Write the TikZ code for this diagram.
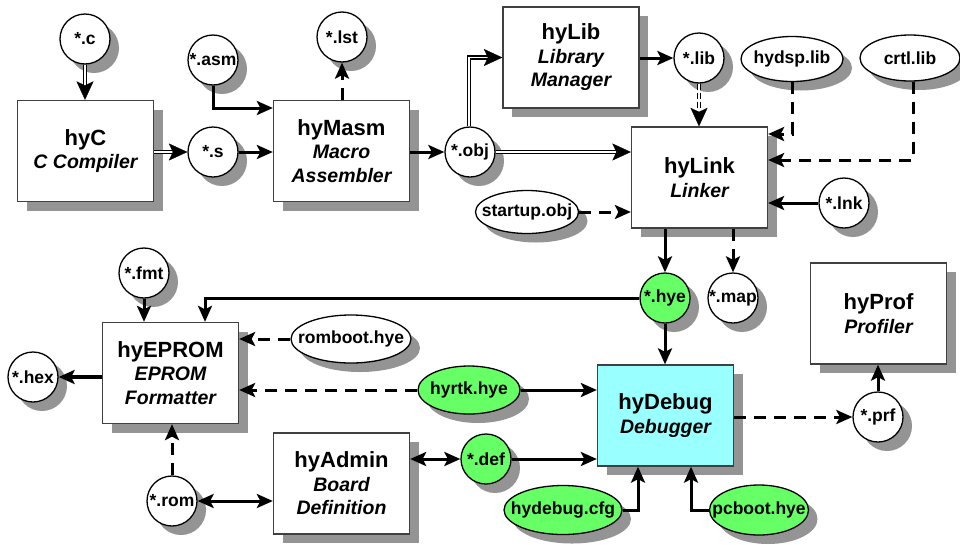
\documentclass[tikz,border=0pt]{standalone}
\usepackage{fontspec}
\setmainfont{Liberation Sans}
\usetikzlibrary{arrows.meta,shadows,shapes.geometric}
\definecolor{fgreen}{HTML}{66FF66}
\definecolor{fcyan}{HTML}{99FFFF}
\newcommand\subt[1]{{\itshape\fontsize{19.5}{23.5}\selectfont #1}}
\newcommand\zw[1]{\makebox[0pt][c]{#1}}
\begin{document}
\begin{tikzpicture}[x=1pt,y=-1pt,
  shd/.style={drop shadow={shadow xshift=9pt,shadow yshift=-9pt,fill=black!42,opacity=1}},
  proc/.style={shd, draw=black!75, line width=1.3pt, fill=white, minimum width=136pt, minimum height=101pt, align=center, inner sep=0pt, font=\bfseries\fontsize{22}{23.5}\selectfont},
  file/.style={shd, circle, draw=black, line width=1.3pt, fill=white, minimum size=50pt, inner sep=0pt, font=\bfseries\fontsize{17.5}{19}\selectfont},
  efile/.style={shd, ellipse, draw=black, line width=1.3pt, fill=white, inner sep=0pt, font=\bfseries\fontsize{17.5}{19}\selectfont},
  grn/.style={fill=fgreen},
  tip/.tip={Stealth[length=16pt,width=14pt,inset=3.5pt]},
  conn/.style={line width=3pt, -tip},
  both/.style={line width=3pt, tip-tip},
  heavy/.style={line width=4.6pt, -tip},
  dsh/.style={line width=3pt, -tip, dash pattern=on 12pt off 8pt},
  dbl/.style={double, line width=1.4pt, double distance=1.8pt, shorten >=10pt},
  ddbl/.style={dbl, dash pattern=on 6pt off 3pt},
  tiponly/.style={draw=white, line width=0.3pt, -{Stealth[length=18.5pt,width=17pt,inset=4pt,color=black,fill=black]}},
]
\useasboundingbox[fill=white] (0,0) rectangle (960,544);

% process boxes
\node[proc] (hyC) at (85.5,151) {hyC\\\subt{C Compiler}};
\node[proc] (hyMasm) at (341.5,151) {hyMasm\\\subt{Macro}\\\subt{Assembler}};
\node[proc] (hyLib) at (571,57.5) {hyLib\\\subt{Library}\\\subt{Manager}};
\node[proc] (hyLink) at (699.5,177.5) {hyLink\\\subt{Linker}};
\node[proc] (hyEPROM) at (170.5,373) {hyEPROM\\\subt{EPROM}\\\subt{Formatter}};
\node[proc] (hyAdmin) at (341.5,483.5) {hyAdmin\\\subt{Board}\\\subt{Definition}};
\node[proc, fill=fcyan] (hyDebug) at (665.5,415.5) {hyDebug\\\subt{Debugger}};
\node[proc] (hyProf) at (878.5,313.5) {hyProf\\\subt{Profiler}};

% files
\node[file] (c) at (85,39) {\zw{*.c}};
\node[file] (asm) at (213,60) {\zw{*.asm}};
\node[file] (s) at (213,152) {\zw{*.s}};
\node[file] (lst) at (342,37) {\zw{*.lst}};
\node[file] (obj) at (470,152) {\zw{*.obj}};
\node[file] (lib) at (699,58) {\zw{*.lib}};
\node[file] (lnk) at (844,203) {\zw{*.lnk}};
\node[file, grn] (hye) at (665,298) {\zw{*.hye}};
\node[file] (map) at (733,298) {\zw{*.map}};
\node[file] (prf) at (878,417) {\zw{*.prf}};
\node[file] (fmt) at (144,273) {\zw{*.fmt}};
\node[file] (hex) at (33,377) {\zw{*.hex}};
\node[file] (rom) at (172,501) {\zw{*.rom}};
\node[file, grn] (def) at (486,459) {\zw{*.def}};

\node[efile, minimum width=102pt, minimum height=45pt] (hydsp) at (792,59) {\zw{hydsp.lib}};
\node[efile, minimum width=100pt, minimum height=46pt] (crtl) at (910,58) {\zw{crtl.lib}};
\node[efile, minimum width=103pt, minimum height=43pt] (startup) at (527,212) {\zw{startup.obj}};
\node[efile, minimum width=120pt, minimum height=48pt] (romboot) at (351,339) {\zw{romboot.hye}};
\node[efile, grn, minimum width=102pt, minimum height=48pt] (hyrtk) at (469,390) {\zw{hyrtk.hye}};
\node[efile, grn, minimum width=118pt, minimum height=49pt] (hydebug) at (563,510) {\zw{hydebug.cfg}};
\node[efile, grn, minimum width=99pt, minimum height=50pt] (pcboot) at (759,510) {\zw{pcboot.hye}};

% double connectors (line, then solid tip)
\draw[dbl] (c.south) -- (c |- hyC.north);
\draw[tiponly] (c.south) -- (c |- hyC.north);
\draw[dbl] (hyC.east |- s) -- (s.west);
\draw[tiponly] (hyC.east |- s) -- (s.west);
\draw[dbl] ([xshift=-1pt]obj.north) |- (hyLib.west);
\draw[tiponly] ([xshift=-1pt]obj.north) |- (hyLib.west);
\draw[dbl] (obj.east) -- (obj -| hyLink.west);
\draw[tiponly] (obj.east) -- (obj -| hyLink.west);
\draw[ddbl] (lib.south) -- (lib |- hyLink.north);
\draw[tiponly] (lib.south) -- (lib |- hyLink.north);

% single connectors
\draw[conn] (s.east) -- (s -| hyMasm.west);
\draw[conn] (asm.south) |- ([yshift=43pt]hyMasm.west);
\draw[dsh] (lst |- hyMasm.north) -- (lst.south);
\draw[conn] (hyMasm.east |- obj) -- (obj.west);
\draw[conn] (hyLib.east |- lib) -- (lib.west);
\draw[dsh] (hydsp.south) |- ([yshift=43.5pt]hyLink.east);
\draw[dsh] ([xshift=3pt]crtl.south) |- ([yshift=17.5pt]hyLink.east);
\draw[conn] (lnk.west) -- (lnk -| hyLink.east);
\draw[dsh] (startup.east) -- (startup -| hyLink.west);
\draw[conn] (hye |- hyLink.south) -- (hye.north);
\draw[dsh] (map |- hyLink.south) -- (map.north);
\draw[conn] (hye.west) -| ([xshift=34.5pt]hyEPROM.north);
\draw[conn] (hye.south) -- (hye |- hyDebug.north);
\draw[conn] (fmt.south) -- (fmt |- hyEPROM.north);
\draw[heavy] (hyEPROM.west |- hex) -- (hex.east);
\draw[dsh] (romboot.west) -- (romboot -| hyEPROM.east);
\draw[dsh] (hyrtk.west) -- (hyrtk -| hyEPROM.east);
\draw[conn] (hyrtk.east) -- (hyrtk -| hyDebug.west);
\draw[dsh] (rom.north) -- (rom |- hyEPROM.south);
\draw[both] (rom.east) -- (rom -| hyAdmin.west);
\draw[both] (def.west) -- (def -| hyAdmin.east);
\draw[conn] (def.east) -- (def -| hyDebug.west);
\draw[conn] (hydebug.east) -| ([xshift=-27.5pt]hyDebug.south);
\draw[conn] (pcboot.west) -| ([xshift=25.5pt]hyDebug.south);
\draw[dsh] (hyDebug.east |- prf) -- (prf.west);
\draw[conn] (prf.north) -- (prf |- hyProf.south);
\end{tikzpicture}
\end{document}
